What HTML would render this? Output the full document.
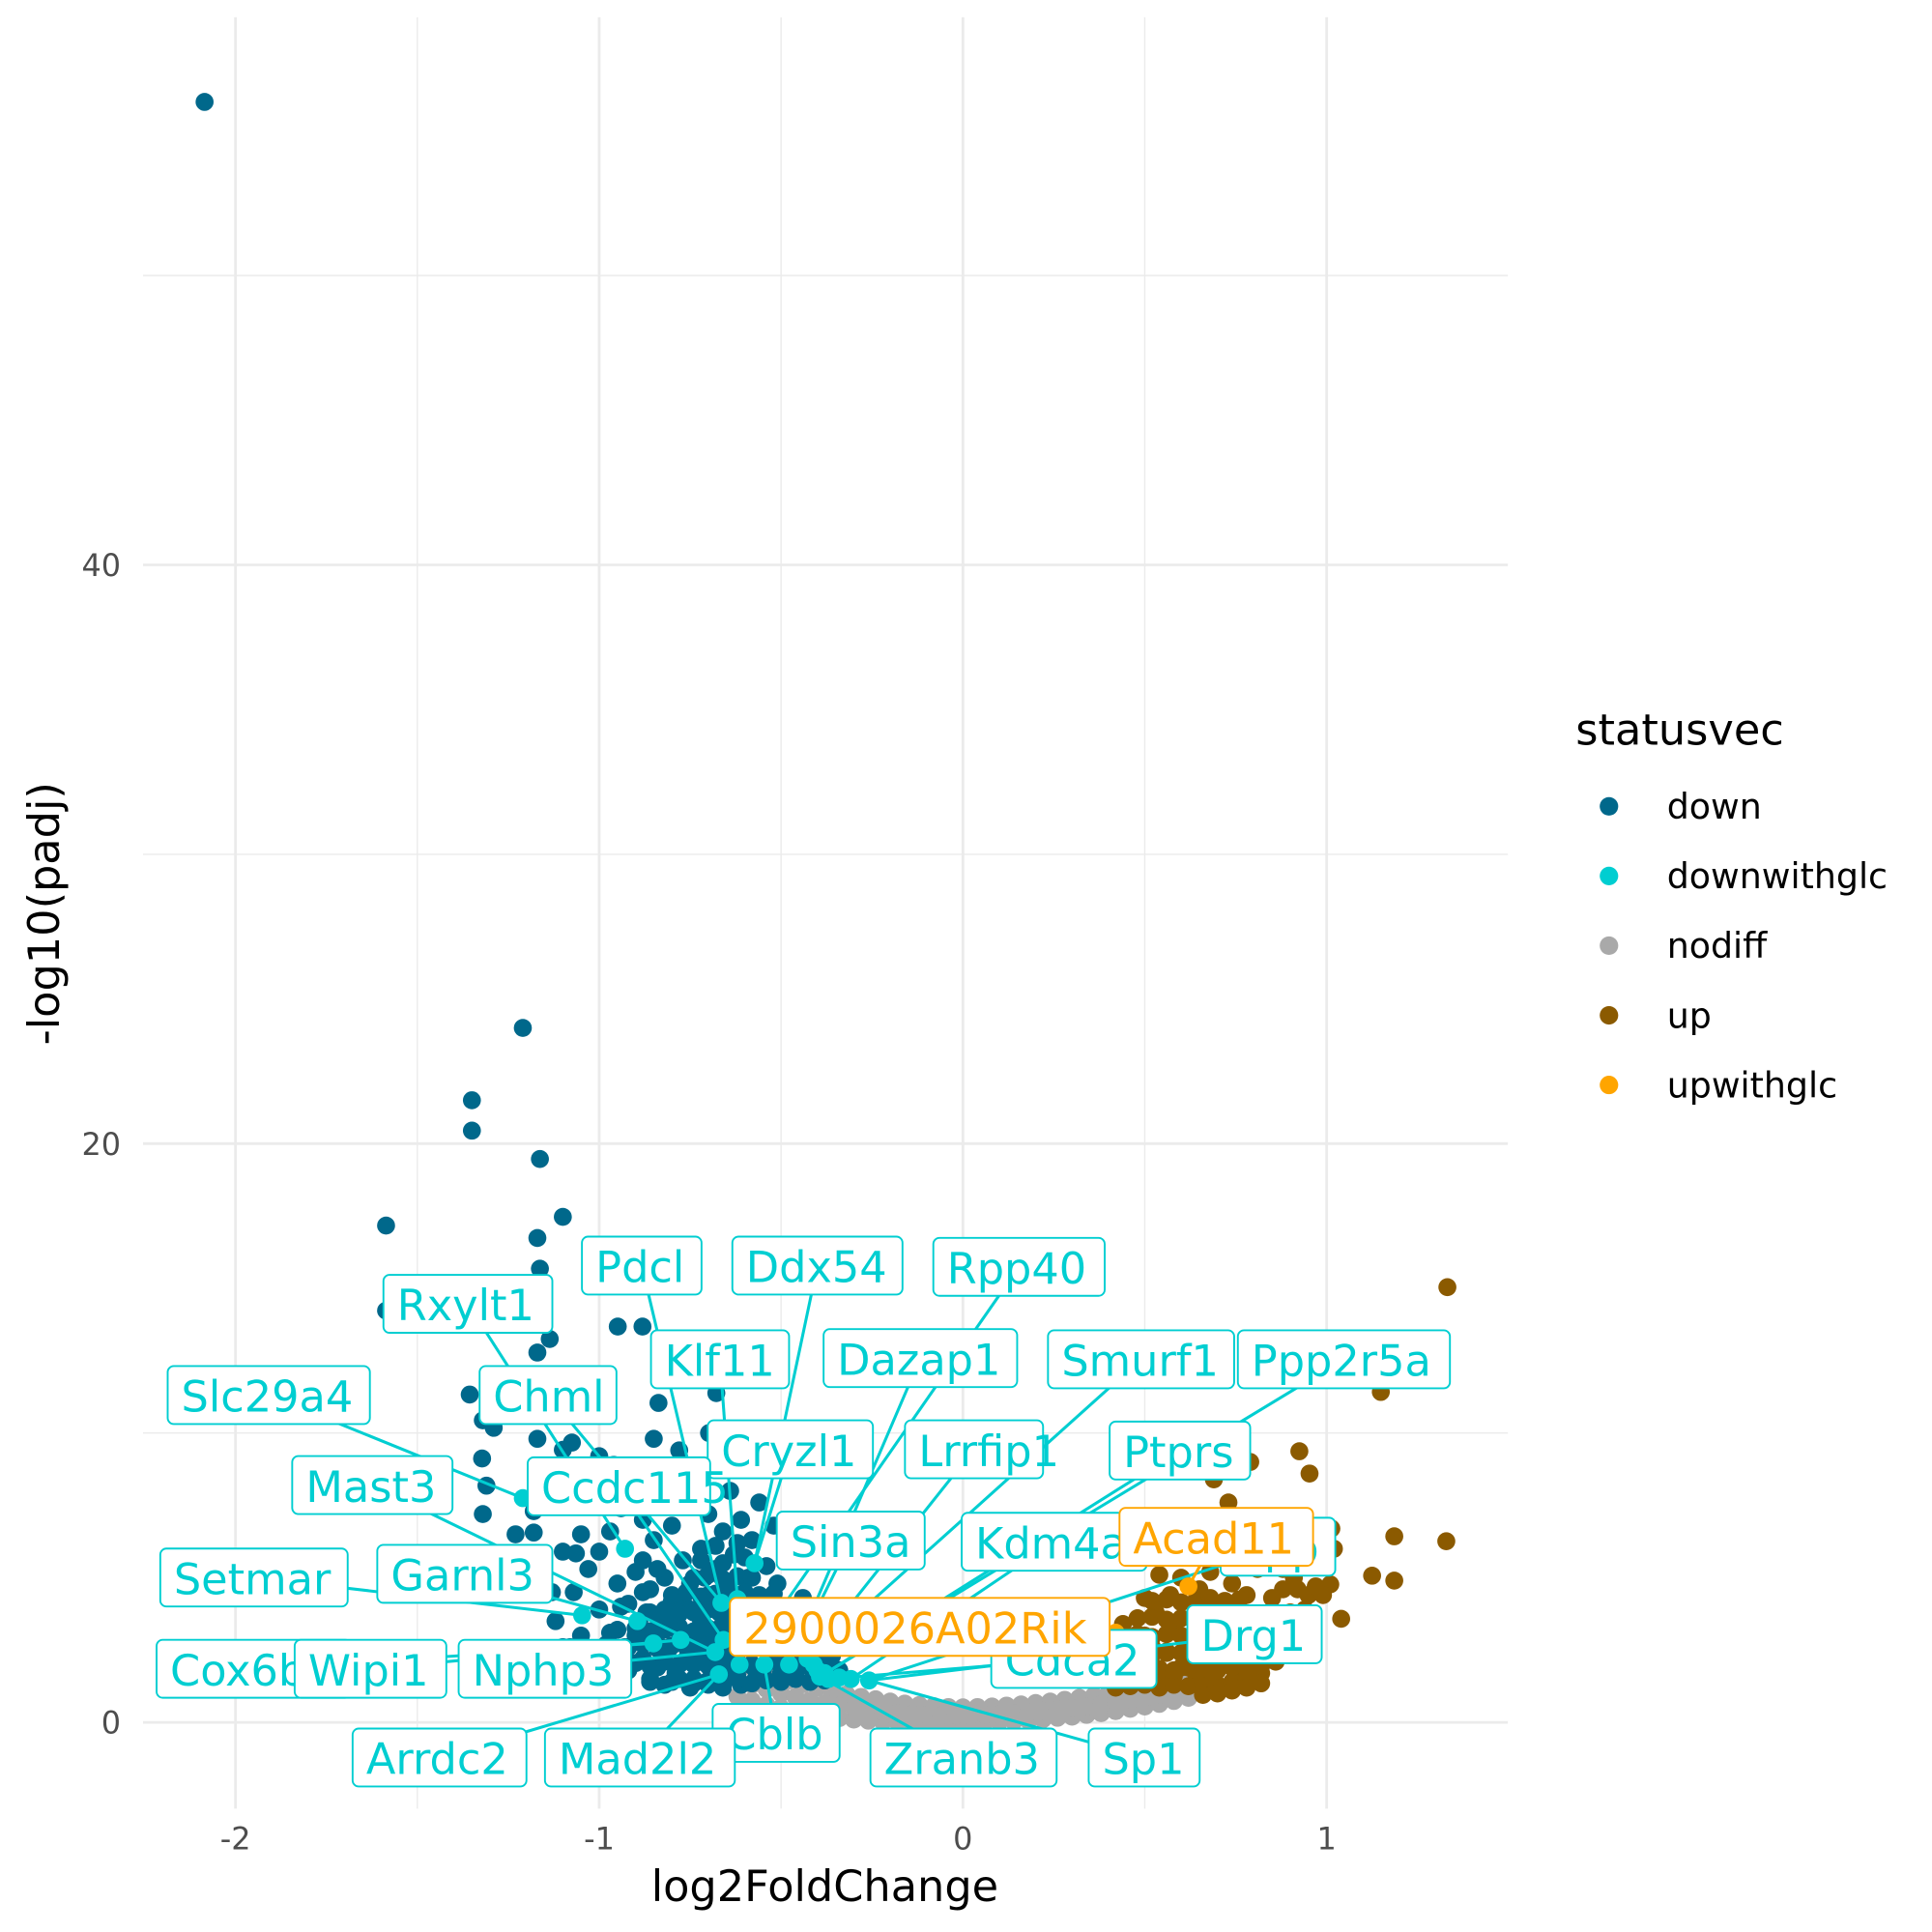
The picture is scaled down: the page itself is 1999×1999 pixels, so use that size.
<!DOCTYPE html>
<html><head><meta charset="utf-8"><style>
html,body{margin:0;padding:0;background:#fff}
svg{display:block}
text{font-family:"DejaVu Sans","Liberation Sans",sans-serif}
</style></head><body>
<svg id="chart" width="1999" height="1999" viewBox="0 0 1567 1567" xmlns="http://www.w3.org/2000/svg">
<g id="grid"></g>
<g id="axes"></g>
<g id="gray"></g>
<g id="up"></g>
<g id="down"></g>
<g id="lines"></g>
<g id="glc"></g>
<g id="labels"></g>
<g id="legend"></g>
</svg>
<script>
const xTicks=[-2,-1,0,1];
const xMinor=[-1.5,-0.5,0.5];
const yTicks=[0,20,40];
const yMinor=[10,30,50];
const downPts=[[-2.085,56.0],[-1.21,24.0],[-1.35,21.5],[-1.35,20.45],[-1.163,19.47],[-1.586,17.17],[-1.10,17.47],[-1.17,16.74],[-1.163,15.68],[-1.586,14.23],[-1.136,13.25],[-0.949,13.68],[-0.881,13.68],[-1.17,12.78],[-1.356,11.33],[-0.837,11.04],[-1.32,10.44],[-1.29,10.18],[-0.678,11.38],[-1.17,9.8],[-0.698,10.0],[-1.322,9.12],[-1.31,8.18],[-1.32,7.2],[-1.18,6.56],[-1.075,9.67],[-1.10,9.42],[-1.064,5.84],
[-0.95,3.2],[-0.93,2.6],[-0.92,4.1],[-0.9,3.0],[-0.9,5.2],[-0.88,2.2],[-0.87,3.8],[-0.86,4.6],[-0.85,2.9],[-0.85,6.3],[-0.84,1.9],[-0.83,3.4],[-0.82,5.0],[-0.81,2.5],[-0.8,4.2],[-0.8,6.8],[-0.79,1.7],[-0.78,3.1],[-0.77,5.6],[-0.76,2.2],[-0.75,3.9],[-0.75,4.8],[-0.74,1.5],[-0.73,2.8],[-0.72,3.5],[-0.72,6.0],[-0.71,2.1],[-0.7,4.4],[-0.7,7.2],[-0.69,1.6],[-0.69,3.0],[-0.68,5.3],[-0.67,2.5],[-0.67,3.8],[-0.66,6.6],[-0.65,1.9],[-0.65,4.7],[-0.64,3.2],[-0.63,2.3],[-0.63,5.8],[-0.62,1.6],[-0.62,4.0],[-0.61,7.0],[-0.6,2.8],[-0.6,3.5],[-0.59,5.0],[-0.58,2.0],[-0.58,6.3],[-0.57,3.0],[-0.56,4.4],[-0.55,1.8],[-0.55,2.6],[-0.54,5.4],[-0.53,3.6],[-0.52,2.2],[-0.51,4.8],[-0.5,2.9],[-0.5,1.7],[-0.49,3.9],[-0.48,2.4],[-0.47,5.9],[-0.46,3.2],[-0.45,2.0],[-0.44,4.3],[-0.43,2.7],[-0.42,1.9],[-0.41,3.4],[-0.4,2.3],[-0.38,2.0],[-0.98,2.0],[-1.0,3.9],[-1.02,2.4],[-1.03,5.3],[-1.05,3.0],[-1.07,4.5],[-1.08,2.6],[-1.1,5.9],[-1.12,3.5],[-0.97,6.6],[-0.94,7.4],[-0.91,8.1],[-0.88,7.0],[-0.84,7.8],[-0.8,8.5],[-0.76,7.6],[-0.72,8.3],[-0.68,9.0],[-0.64,8.0],[-0.6,9.3],[-0.96,8.9],[-1.0,9.2],[-1.02,7.7],[-0.85,9.8],[-0.78,9.4],[-0.56,7.6],[-0.52,6.8],[-0.6,4.1],[-0.66,3.4],[-0.74,2.0],[-0.82,3.9],[-0.88,4.5],[-0.77,4.2],[-0.71,5.0],[-0.63,3.0],[-0.57,1.5],[-0.53,4.0],[-0.46,1.6],[-0.69,2.6],[-1.23,6.5],[-1.17,8.5],[-1.18,7.3],[-1.05,6.5],[-1.0,5.9],[-0.95,4.8],[-1.13,4.5],[-1.1,2.6],[-0.7,1.3],[-0.66,1.2],[-0.61,1.3],[-0.75,1.2],[-0.8,1.4],[-0.86,1.5],[-0.92,1.8],[-0.58,2.5],[-0.54,3.1],[-0.5,3.5],[-0.64,2.6],[-0.68,2.0],[-0.72,2.4],[-0.76,3.0],[-0.79,3.6],[-0.83,2.6],[-0.89,3.5],[-0.94,2.3],[-0.97,3.1],
[-0.86,1.4],[-0.82,1.3],[-0.78,1.5],[-0.74,1.35],[-0.7,1.45],[-0.66,1.4],[-0.62,1.5],[-0.58,1.35],[-0.54,1.45],[-0.5,1.4],[-0.46,1.5],[-0.42,1.4],[-0.38,1.45],[-0.36,1.6],
[-0.9,2.05],[-0.86,1.95],[-0.82,2.1],[-0.78,2.0],[-0.74,2.1],[-0.7,1.95],[-0.66,2.05],[-0.62,2.1],[-0.58,1.95],[-0.54,2.05],[-0.5,2.1],[-0.46,1.95],[-0.42,2.05],[-0.38,2.1],
[-0.92,2.6],[-0.88,2.7],[-0.84,2.55],[-0.8,2.65],[-0.76,2.6],[-0.72,2.7],[-0.68,2.55],[-0.64,2.65],[-0.6,2.6],[-0.56,2.7],[-0.52,2.55],[-0.48,2.65],[-0.44,2.6],[-0.4,2.5],
[-0.9,3.25],[-0.86,3.15],[-0.82,3.2],[-0.78,3.3],[-0.74,3.15],[-0.7,3.25],[-0.66,3.2],[-0.62,3.3],[-0.58,3.15],[-0.54,3.25],[-0.5,3.2],[-0.46,3.1],
[-0.86,3.8],[-0.82,3.85],[-0.78,3.75],[-0.74,3.8],[-0.7,3.9],[-0.66,3.75],[-0.62,3.85],[-0.58,3.8],[-0.54,3.7],[-0.5,3.8],
[-0.8,4.4],[-0.76,4.5],[-0.72,4.35],[-0.68,4.45],[-0.64,4.4],[-0.6,4.5],[-0.56,4.35],[-0.52,4.45],
[-0.74,5.0],[-0.7,5.1],[-0.66,4.95],[-0.62,5.05],[-0.58,5.0],[-0.72,5.6],[-0.66,5.5],[-0.6,5.7],[-0.68,6.1],[-0.62,6.2],
[-0.88,5.6],[-0.84,5.3],[-0.94,4.0],[-0.98,2.7],[-0.96,1.6],[-0.34,1.8],[-0.36,2.3]];
const grayPts=[[-0.62,0.9],[-0.58,0.75],[-0.54,0.6],[-0.5,0.5],[-0.46,0.4],[-0.42,0.3],[-0.38,0.22],[-0.34,0.15],[-0.3,0.1],[-0.26,0.06],[-0.22,0.03],[-0.18,0.02],[-0.14,0.0],[-0.1,0.0],[-0.06,0.0],[-0.02,0.0],[0.02,0.0],[0.06,0.01],[0.1,0.02],[0.14,0.04],[0.18,0.07],[0.22,0.11],[0.26,0.16],[0.3,0.2],[0.34,0.26],[0.38,0.32],[0.42,0.39],[0.46,0.47],[0.5,0.55],[0.54,0.64],[0.58,0.74],[0.62,0.85],
[-0.64,2.2],[-0.6,1.95],[-0.56,1.75],[-0.52,1.6],[-0.48,1.45],[-0.44,1.32],[-0.4,1.2],[-0.36,1.08],[-0.32,0.97],[-0.28,0.88],[-0.24,0.8],[-0.2,0.72],[-0.16,0.65],[-0.12,0.6],[-0.08,0.56],[-0.04,0.53],[0.0,0.52],[0.04,0.53],[0.08,0.55],[0.12,0.58],[0.16,0.62],[0.2,0.67],[0.24,0.72],[0.28,0.78],[0.32,0.85],[0.36,0.92],[0.4,1.0],[0.44,1.08],[0.48,1.17],[0.52,1.26],[0.56,1.36],[0.6,1.46],[0.64,1.56],
[-0.62,1.5],[-0.58,1.3],[-0.54,1.15],[-0.5,1.0],[-0.46,0.88],[-0.42,0.76],[-0.38,0.66],[-0.34,0.57],[-0.3,0.5],[-0.26,0.43],[-0.22,0.37],[-0.18,0.32],[-0.14,0.28],[-0.1,0.26],[-0.06,0.24],[-0.02,0.24],[0.02,0.25],[0.06,0.26],[0.1,0.28],[0.14,0.31],[0.18,0.35],[0.22,0.4],[0.26,0.45],[0.3,0.5],[0.34,0.56],[0.38,0.63],[0.42,0.7],[0.46,0.78],[0.5,0.87],[0.54,0.96],[0.58,1.06],[0.62,1.16],[0.65,1.3]];
const upPts=[[1.332,15.04],[1.149,11.42],[0.925,9.37],[0.953,8.6],[0.79,9.0],[0.69,8.4],[1.186,6.43],[1.329,6.26],[1.125,5.07],[1.186,4.9],[1.04,3.58],[1.01,4.77],[1.013,6.7],[1.02,6.0],[0.91,5.0],[0.95,4.4],[0.88,4.6],[0.84,7.0],[0.73,7.6],[0.66,6.3],[0.46,1.5],[0.48,2.2],[0.5,3.0],[0.5,1.8],[0.52,2.6],[0.53,3.8],[0.55,1.6],[0.56,2.4],[0.57,4.4],[0.58,3.2],[0.6,1.9],[0.6,5.0],[0.62,2.7],[0.63,3.6],[0.64,1.7],[0.65,4.6],[0.66,2.3],[0.67,3.1],[0.68,5.2],[0.69,1.9],[0.7,2.7],[0.71,4.1],[0.72,3.4],[0.73,2.1],[0.74,4.8],[0.75,2.9],[0.76,3.8],[0.77,2.3],[0.78,4.4],[0.79,3.2],[0.8,2.5],[0.81,5.3],[0.82,3.7],[0.83,2.8],[0.85,4.3],[0.86,3.3],[0.88,5.3],[0.9,3.8],[0.92,4.6],[0.94,3.9],[0.97,4.7],[0.99,4.4],[0.54,5.1],[0.47,2.8],[0.44,3.4],[0.5,4.3],[0.62,5.7],[0.7,5.9],[0.78,5.7],[0.58,1.6],[0.68,1.6],[0.75,1.8],[0.83,2.2],[0.87,2.6],
[0.42,1.2],[0.46,1.25],[0.5,1.3],[0.54,1.2],[0.58,1.3],[0.62,1.25],[0.66,1.35],[0.7,1.3],[0.74,1.4],[0.78,1.5],[0.82,1.7],
[0.42,1.85],[0.46,1.8],[0.5,1.9],[0.54,1.85],[0.58,1.8],[0.62,1.9],[0.66,1.85],[0.7,1.8],[0.74,1.9],[0.78,1.85],[0.82,1.95],[0.86,2.1],
[0.44,2.4],[0.48,2.45],[0.52,2.35],[0.56,2.45],[0.6,2.4],[0.64,2.35],[0.68,2.45],[0.72,2.4],[0.76,2.5],[0.8,2.4],[0.84,2.5],
[0.44,3.0],[0.48,3.05],[0.52,2.95],[0.56,3.05],[0.6,3.0],[0.64,2.95],[0.68,3.05],[0.72,3.0],[0.76,3.1],[0.8,3.0],
[0.48,3.6],[0.52,3.65],[0.56,3.55],[0.6,3.6],[0.64,3.65],[0.68,3.6],[0.72,3.7],[0.76,3.6],
[0.52,4.2],[0.56,4.25],[0.6,4.15],[0.64,4.2],[0.68,4.3],[0.72,4.2],[0.76,4.25],
[0.66,0.95],[0.7,1.0],[0.74,1.1],[0.78,1.2],[0.82,1.35]];
const glcDown=[[-0.929,6.0],[-1.047,3.7],[-1.21,7.75],[-0.681,2.43],[-0.776,2.85],[-0.851,2.73],[-0.895,3.5],[-0.573,5.5],[-0.664,4.13],[-0.546,2.0],[-0.671,1.66],[-0.478,2.0],[-0.393,1.58],[-0.308,1.5],[-0.258,1.45],[-0.37,1.5],[-0.427,2.2],[-0.62,4.26],[-0.512,3.7],[-0.658,2.85],[-0.614,2.0],[-0.41,2.0],[-0.4,1.8],[-0.38,1.7],[-0.34,1.55]];
const glcUp=[[0.62,4.7],[0.42,3.1]];
const labelNames=["Rxylt1","Pdcl","Ddx54","Rpp40","Klf11","Dazap1","Smurf1","Ppp2r5a","Slc29a4","Chml","Cryzl1","Lrrfip1","Ptprs","Mast3","Ccdc115","Sin3a","Kdm4a","Rpp","Setmar","Garnl3","Drg1","Cdca2","Cox6b1","Wipi1","Nphp3","Cblb","Arrdc2","Mad2l2","Zranb3","Sp1","Acad11","2900026A02Rik"];
const labelPoint=[0,8,7,18,17,11,16,12,2,8,7,16,12,3,19,11,13,14,1,6,14,15,5,4,3,9,10,10,12,14,0,1];
const labelSet=["d","d","d","d","d","d","d","d","d","d","d","d","d","d","d","d","d","d","d","d","d","d","d","d","d","d","d","d","d","d","u","u"];
const boxL=[311,472,594,757,528,668,850,1004,136,389,574,734,900,237,428,630,780,990,130,306,963,804,127,239,372,578,286,442,706,883,908,592];
const boxT=[1034,1003,1003,1004,1079,1078,1079,1079,1108,1108,1152,1152,1153,1181,1182,1226,1227,1231,1256,1253,1302,1322,1330,1330,1330,1382,1402,1402,1402,1402,1223,1296];
const boxW=[137,97,138,139,112,157,151,172,164,111,134,112,114,130,148,120,150,93,152,142,109,134,158,123,140,103,141,154,151,90,157,308];

const NS="http://www.w3.org/2000/svg";
const X=v=>781+295*v, Y=v=>1397-23.47*v;
const PL=116,PR=1223,PT=14,PB=1467;
function el(tag,attrs,parent){const e=document.createElementNS(NS,tag);for(const k in attrs)e.setAttribute(k,attrs[k]);parent.appendChild(e);return e;}
const G=id=>document.getElementById(id);
const gg=G("grid");
yMinor.forEach(v=>{const l=el("line",{x1:PL,x2:PR,y1:Y(v),y2:Y(v),stroke:"#ebebeb","stroke-width":1.1},gg);

});
xMinor.forEach(v=>{const l=el("line",{x1:X(v),x2:X(v),y1:PT,y2:PB,stroke:"#ebebeb","stroke-width":1.1},gg);

});
yTicks.forEach(v=>{const l=el("line",{x1:PL,x2:PR,y1:Y(v),y2:Y(v),stroke:"#ebebeb","stroke-width":2.2},gg);

});
xTicks.forEach(v=>{const l=el("line",{x1:X(v),x2:X(v),y1:PT,y2:PB,stroke:"#ebebeb","stroke-width":2.2},gg);

});
const ax=G("axes");
yTicks.forEach(v=>{const t=el("text",{x:98,y:Y(v)+9,"text-anchor":"end","font-size":25,fill:"#4d4d4d"},ax);t.textContent=v;

});
xTicks.forEach(v=>{const t=el("text",{x:X(v),y:1500,"text-anchor":"middle","font-size":25,fill:"#4d4d4d"},ax);t.textContent=v;

});
let t=el("text",{x:669,y:1542,"text-anchor":"middle","font-size":35,fill:"#000"},ax);t.textContent="log2FoldChange";


t=el("text",{x:0,y:0,"text-anchor":"middle","font-size":35,fill:"#000",transform:"translate(48,741) rotate(-90)"},ax);t.textContent="-log10(padj)";


function pts(arr,g,col,name){arr.forEach(p=>{const c=el("circle",{cx:X(p[0]),cy:Y(p[1]),r:7.3,fill:col},G(g));

});}
pts(grayPts,"gray","#a9a9a9","point-nodiff");
pts(upPts,"up","#8b5a00","point-up");
pts(downPts,"down","#00688b","point-down");
pts(glcDown,"glc","#00ced1","point-downwithglc");
pts(glcUp,"glc","#ffa500","point-upwithglc");
labelNames.forEach((n,i)=>{
  const col=labelSet[i]=="u"?"#ffa500":"#00ced1";
  const p=(labelSet[i]=="u"?glcUp:glcDown)[labelPoint[i]];
  const cx=boxL[i]+boxW[i]/2, cy=boxT[i]+23.5;
  const ln=el("line",{x1:cx,y1:cy,x2:X(p[0]),y2:Y(p[1]),stroke:col,"stroke-width":2.4},G("lines"));
  
  
  const g=el("g",{},G("labels"));
  
  
  el("rect",{x:boxL[i],y:boxT[i],width:boxW[i],height:47,rx:5,fill:"#fff",stroke:col,"stroke-width":1.5},g);
  const tx=el("text",{x:boxL[i]+11,y:boxT[i]+37,"font-size":35,fill:col},g);tx.textContent=n;
});
const lg=G("legend");
t=el("text",{x:1278,y:604,"font-size":35,fill:"#000"},lg);t.textContent="statusvec";


const legNames=["down","downwithglc","nodiff","up","upwithglc"];
const legCols=["#00688b","#00ced1","#a9a9a9","#8b5a00","#ffa500"];
legNames.forEach((n,i)=>{const y=654+56.5*i;
  const g=el("g",{},lg);
  
  
  el("circle",{cx:1305,cy:y,r:7.5,fill:legCols[i]},g);
  const tt=el("text",{x:1352,y:y+10,"font-size":28.5,fill:"#000"},g);tt.textContent=n;});
</script>
</body></html>
